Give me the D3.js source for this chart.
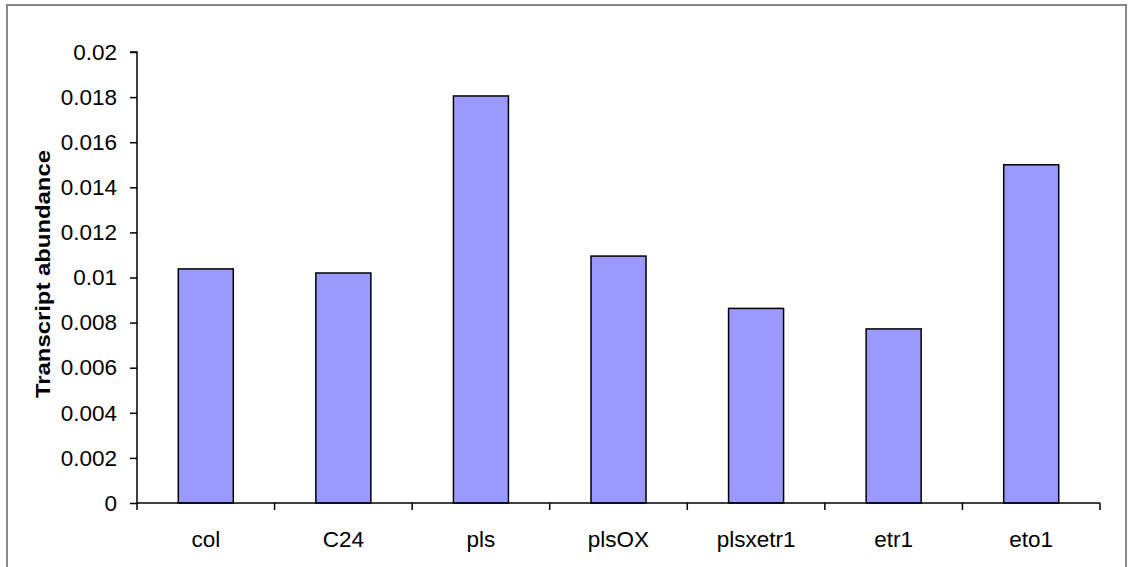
<!DOCTYPE html>
<html><head><meta charset="utf-8">
<script src="https://cdn.jsdelivr.net/npm/d3@7"></script>
<style>body{margin:0;background:#fff}svg{display:block}</style>
</head><body>
<script>
const categories = ["col","C24","pls","plsOX","plsxetr1","etr1","eto1"];
const values = [0.01038,0.0102,0.01805,0.01095,0.00863,0.00772,0.0150];
const yTicks = [0,0.002,0.004,0.006,0.008,0.01,0.012,0.014,0.016,0.018,0.02];
const yTickLabels = ["0","0.002","0.004","0.006","0.008","0.01","0.012","0.014","0.016","0.018","0.02"];
const yTitle = "Transcript abundance";

const W=1132,H=567;
const svg=d3.select("body").append("svg").attr("width",W).attr("height",H);
svg.append("rect").attr("x",7).attr("y",5).attr("width",1119).attr("height",600)
  .attr("fill","#fff").attr("stroke","#888").attr("stroke-width",2);

const x0=137,x1=1100,y0=503,y1=52;
const xb=d3.scaleBand().domain(categories).range([x0,x1]);
const y=d3.scaleLinear().domain([0,0.02]).range([y0,y1]);
const font="'Liberation Sans', Arial, sans-serif";

svg.selectAll("rect.bar").data(values).join("rect").attr("class","bar")
  .attr("x",(d,i)=>xb(categories[i])+(xb.bandwidth()-55)/2)
  .attr("width",55)
  .attr("y",d=>y(d)).attr("height",d=>y0-y(d))
  .attr("fill","#9999ff").attr("stroke","#000").attr("stroke-width",1.5);

// y axis
const ya=svg.append("g").attr("transform",`translate(${x0},0)`)
  .call(d3.axisLeft(y).tickValues(yTicks).tickSize(7).tickPadding(12)
    .tickFormat((d,i)=>yTickLabels[i]));
ya.select(".domain").attr("stroke","#000").attr("stroke-width",1.5).attr("d",`M-7,${y1}H0V${y0}`);
ya.selectAll(".tick line").attr("stroke","#000").attr("stroke-width",1.5);
ya.selectAll(".tick text").attr("font-family",font).attr("font-size",22.5).attr("fill","#000").attr("dx","-1");

// x axis
const xa=svg.append("g").attr("transform",`translate(0,${y0})`)
  .call(d3.axisBottom(xb).tickSize(0).tickPadding(28));
xa.select(".domain").attr("stroke","#000").attr("stroke-width",1.5).attr("d",`M${x0},0H${x1}`);
xa.selectAll(".tick text").attr("font-family",font).attr("font-size",22.5).attr("fill","#000");
const bounds=categories.map(c=>xb(c)).concat([x1]);
xa.selectAll("line.sep").data(bounds).join("line").attr("class","sep")
  .attr("x1",d=>d).attr("x2",d=>d).attr("y1",0).attr("y2",7)
  .attr("stroke","#000").attr("stroke-width",1.5);

svg.append("text").attr("transform",`translate(50,${(150+398)/2}) rotate(-90)`)
  .attr("text-anchor","middle").attr("font-family",font).attr("font-weight","bold")
  .attr("font-size",20).attr("textLength",248).attr("lengthAdjust","spacingAndGlyphs").text(yTitle);
</script>
</body></html>
